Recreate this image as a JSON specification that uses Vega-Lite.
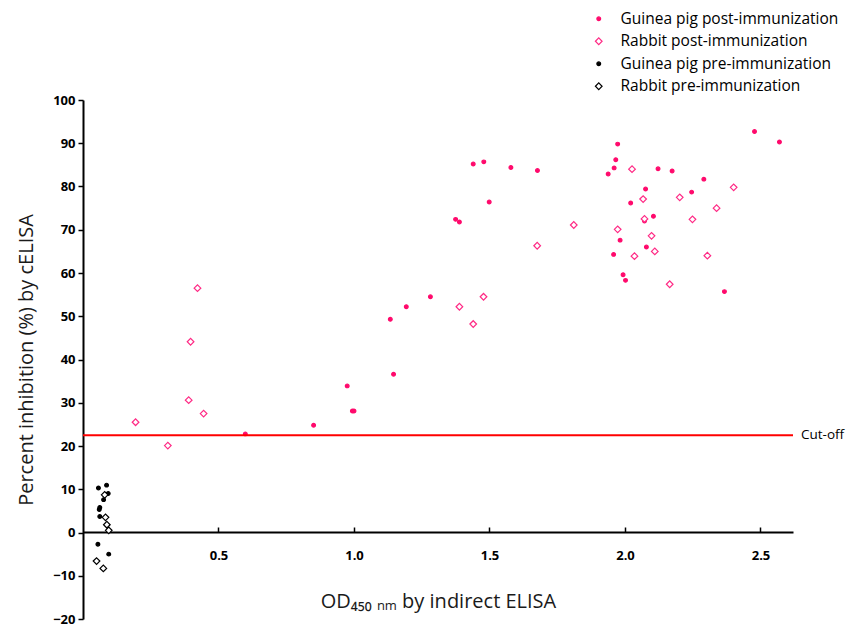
{
  "$schema": "https://vega.github.io/schema/vega-lite/v6.json",
  "width": 710,
  "height": 519,
  "autosize": {"type": "none"},
  "padding": {"left": 83, "top": 100, "right": 59, "bottom": 5},
  "background": "white",
  "config": {
    "view": {"stroke": null},
    "font": "Open Sans",
    "axis": {"grid": false},
    "legend": {
      "orient": "none",
      "legendX": 508,
      "legendY": -89,
      "title": null,
      "labelFont": "Open Sans",
      "labelFontSize": 15.5,
      "labelColor": "black",
      "labelLimit": 0,
      "rowPadding": 5.5,
      "labelOffset": 14,
      "symbolStrokeWidth": 1.2
    }
  },
  "datasets": {
    "pts": [
      {"x": 1.44, "y": 85.2, "g": "Guinea pig post-immunization"},
      {"x": 1.479, "y": 85.7, "g": "Guinea pig post-immunization"},
      {"x": 1.579, "y": 84.4, "g": "Guinea pig post-immunization"},
      {"x": 1.677, "y": 83.7, "g": "Guinea pig post-immunization"},
      {"x": 1.499, "y": 76.4, "g": "Guinea pig post-immunization"},
      {"x": 1.375, "y": 72.4, "g": "Guinea pig post-immunization"},
      {"x": 1.389, "y": 71.8, "g": "Guinea pig post-immunization"},
      {"x": 1.282, "y": 54.5, "g": "Guinea pig post-immunization"},
      {"x": 1.193, "y": 52.2, "g": "Guinea pig post-immunization"},
      {"x": 1.134, "y": 49.3, "g": "Guinea pig post-immunization"},
      {"x": 1.146, "y": 36.6, "g": "Guinea pig post-immunization"},
      {"x": 0.975, "y": 33.9, "g": "Guinea pig post-immunization"},
      {"x": 0.994, "y": 28.1, "g": "Guinea pig post-immunization"},
      {"x": 1.0, "y": 28.1, "g": "Guinea pig post-immunization"},
      {"x": 0.851, "y": 24.8, "g": "Guinea pig post-immunization"},
      {"x": 0.599, "y": 22.8, "g": "Guinea pig post-immunization"},
      {"x": 1.973, "y": 89.8, "g": "Guinea pig post-immunization"},
      {"x": 1.966, "y": 86.2, "g": "Guinea pig post-immunization"},
      {"x": 1.96, "y": 84.3, "g": "Guinea pig post-immunization"},
      {"x": 1.938, "y": 82.9, "g": "Guinea pig post-immunization"},
      {"x": 2.122, "y": 84.1, "g": "Guinea pig post-immunization"},
      {"x": 2.174, "y": 83.6, "g": "Guinea pig post-immunization"},
      {"x": 2.291, "y": 81.7, "g": "Guinea pig post-immunization"},
      {"x": 2.478, "y": 92.7, "g": "Guinea pig post-immunization"},
      {"x": 2.57, "y": 90.3, "g": "Guinea pig post-immunization"},
      {"x": 2.076, "y": 79.4, "g": "Guinea pig post-immunization"},
      {"x": 2.246, "y": 78.7, "g": "Guinea pig post-immunization"},
      {"x": 2.021, "y": 76.2, "g": "Guinea pig post-immunization"},
      {"x": 2.105, "y": 73.1, "g": "Guinea pig post-immunization"},
      {"x": 2.072, "y": 72.0, "g": "Guinea pig post-immunization"},
      {"x": 1.982, "y": 67.6, "g": "Guinea pig post-immunization"},
      {"x": 2.079, "y": 66.0, "g": "Guinea pig post-immunization"},
      {"x": 1.958, "y": 64.3, "g": "Guinea pig post-immunization"},
      {"x": 1.993, "y": 59.6, "g": "Guinea pig post-immunization"},
      {"x": 2.002, "y": 58.3, "g": "Guinea pig post-immunization"},
      {"x": 2.367, "y": 55.7, "g": "Guinea pig post-immunization"},
      {"x": 2.026, "y": 84.0, "g": "Rabbit post-immunization"},
      {"x": 2.401, "y": 79.8, "g": "Rabbit post-immunization"},
      {"x": 2.067, "y": 77.1, "g": "Rabbit post-immunization"},
      {"x": 2.202, "y": 77.5, "g": "Rabbit post-immunization"},
      {"x": 2.338, "y": 75.0, "g": "Rabbit post-immunization"},
      {"x": 2.072, "y": 72.5, "g": "Rabbit post-immunization"},
      {"x": 2.249, "y": 72.4, "g": "Rabbit post-immunization"},
      {"x": 1.973, "y": 70.1, "g": "Rabbit post-immunization"},
      {"x": 2.098, "y": 68.6, "g": "Rabbit post-immunization"},
      {"x": 2.11, "y": 65.0, "g": "Rabbit post-immunization"},
      {"x": 2.035, "y": 63.9, "g": "Rabbit post-immunization"},
      {"x": 2.304, "y": 64.0, "g": "Rabbit post-immunization"},
      {"x": 2.165, "y": 57.4, "g": "Rabbit post-immunization"},
      {"x": 1.676, "y": 66.3, "g": "Rabbit post-immunization"},
      {"x": 1.811, "y": 71.1, "g": "Rabbit post-immunization"},
      {"x": 1.478, "y": 54.5, "g": "Rabbit post-immunization"},
      {"x": 1.389, "y": 52.2, "g": "Rabbit post-immunization"},
      {"x": 1.44, "y": 48.2, "g": "Rabbit post-immunization"},
      {"x": 0.4225, "y": 56.5, "g": "Rabbit post-immunization"},
      {"x": 0.397, "y": 44.1, "g": "Rabbit post-immunization"},
      {"x": 0.39, "y": 30.6, "g": "Rabbit post-immunization"},
      {"x": 0.445, "y": 27.5, "g": "Rabbit post-immunization"},
      {"x": 0.313, "y": 20.1, "g": "Rabbit post-immunization"},
      {"x": 0.194, "y": 25.5, "g": "Rabbit post-immunization"},
      {"x": 0.087, "y": 10.95, "g": "Guinea pig pre-immunization"},
      {"x": 0.057, "y": 10.3, "g": "Guinea pig pre-immunization"},
      {"x": 0.093, "y": 9.0, "g": "Guinea pig pre-immunization"},
      {"x": 0.076, "y": 7.6, "g": "Guinea pig pre-immunization"},
      {"x": 0.062, "y": 5.8, "g": "Guinea pig pre-immunization"},
      {"x": 0.06, "y": 5.3, "g": "Guinea pig pre-immunization"},
      {"x": 0.062, "y": 3.7, "g": "Guinea pig pre-immunization"},
      {"x": 0.055, "y": -2.7, "g": "Guinea pig pre-immunization"},
      {"x": 0.095, "y": -5.0, "g": "Guinea pig pre-immunization"},
      {"x": 0.08, "y": 8.7, "g": "Rabbit pre-immunization"},
      {"x": 0.083, "y": 3.5, "g": "Rabbit pre-immunization"},
      {"x": 0.088, "y": 1.8, "g": "Rabbit pre-immunization"},
      {"x": 0.095, "y": 0.5, "g": "Rabbit pre-immunization"},
      {"x": 0.05, "y": -6.6, "g": "Rabbit pre-immunization"},
      {"x": 0.075, "y": -8.3, "g": "Rabbit pre-immunization"}
    ],
    "one": [{"cut": 22.5, "label": "Cut-off", "xe": 2.62}]
  },
  "layer": [
    {
      "data": {"name": "pts"},
      "mark": {"type": "point", "strokeWidth": 1.2, "opacity": 1},
      "encoding": {
        "x": {
          "field": "x",
          "type": "quantitative",
          "scale": {"domain": [0, 2.62], "nice": false, "zero": false},
          "axis": {
            "title": "OD₄₅₀ ₙₘ by indirect ELISA",
            "values": [0.5, 1, 1.5, 2, 2.5],
            "format": ".1f",
            "offset": -87,
            "tickSize": -5,
            "tickWidth": 1.5,
            "tickColor": "black",
            "domainColor": "black",
            "domainWidth": 2,
            "labelPadding": 22,
            "labelFont": "Open Sans",
            "labelFontWeight": "bold",
            "labelFontSize": 13,
            "labelColor": "black",
            "titleFont": "Open Sans",
            "titleFontSize": 20,
            "titleFontWeight": "normal",
            "titleColor": "#1a1a1a",
            "titlePadding": 29
          }
        },
        "y": {
          "field": "y",
          "type": "quantitative",
          "scale": {"domain": [-20, 100], "nice": false, "zero": false},
          "axis": {
            "title": "Percent inhibition (%) by cELISA",
            "values": [-20, -10, 0, 10, 20, 30, 40, 50, 60, 70, 80, 90, 100],
            "tickSize": 5,
            "tickWidth": 1.5,
            "tickColor": "black",
            "domainColor": "black",
            "domainWidth": 2,
            "labelPadding": 3,
            "labelFont": "Open Sans",
            "labelFontWeight": "bold",
            "labelFontSize": 13,
            "labelColor": "black",
            "titleFont": "Open Sans",
            "titleFontSize": 20,
            "titleFontWeight": "normal",
            "titleColor": "#1a1a1a",
            "titlePadding": 16
          }
        },
        "shape": {
          "field": "g",
          "type": "nominal",
          "scale": {
            "domain": ["Guinea pig post-immunization", "Rabbit post-immunization", "Guinea pig pre-immunization", "Rabbit pre-immunization"],
            "range": ["circle", "diamond", "circle", "diamond"]
          }
        },
        "fill": {
          "field": "g",
          "type": "nominal",
          "scale": {
            "domain": ["Guinea pig post-immunization", "Rabbit post-immunization", "Guinea pig pre-immunization", "Rabbit pre-immunization"],
            "range": ["#ff0a6c", "white", "black", "white"]
          }
        },
        "stroke": {
          "field": "g",
          "type": "nominal",
          "scale": {
            "domain": ["Guinea pig post-immunization", "Rabbit post-immunization", "Guinea pig pre-immunization", "Rabbit pre-immunization"],
            "range": ["#ff0a6c", "#ff2a85", "black", "black"]
          }
        },
        "size": {
          "field": "g",
          "type": "nominal",
          "scale": {
            "type": "ordinal",
            "domain": ["Guinea pig post-immunization", "Rabbit post-immunization", "Guinea pig pre-immunization", "Rabbit pre-immunization"],
            "range": [14, 44, 14, 44]
          }
        }
      }
    },
    {
      "data": {"name": "one"},
      "mark": {"type": "rule", "color": "#ff0000", "strokeWidth": 2},
      "encoding": {"y": {"field": "cut", "type": "quantitative"}}
    },
    {
      "data": {"name": "one"},
      "mark": {"type": "text", "align": "left", "baseline": "middle", "dx": 8, "fontSize": 13.5, "font": "Open Sans", "color": "black"},
      "encoding": {
        "x": {"field": "xe", "type": "quantitative"},
        "y": {"field": "cut", "type": "quantitative"},
        "text": {"field": "label"}
      }
    }
  ]
}
